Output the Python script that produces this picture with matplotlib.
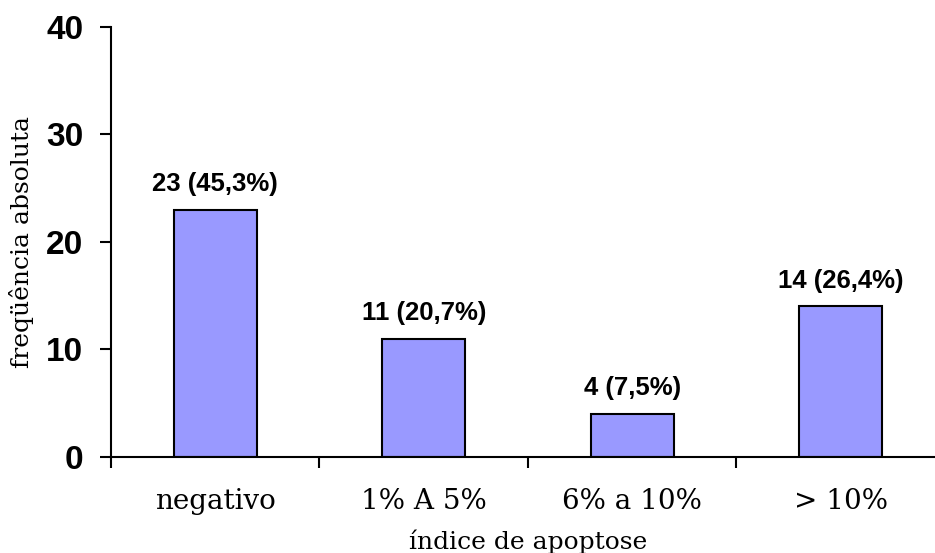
import matplotlib
matplotlib.use("Agg")
import matplotlib.pyplot as plt
import numpy as np

categories = ["negativo", "1% A 5%", "6% a 10%", "> 10%"]
counts = [23, 11, 4, 14]
percent_labels = ["23 (45,3%)", "11 (20,7%)", "4 (7,5%)", "14 (26,4%)"]
yticks = [0, 10, 20, 30, 40]

fig = plt.figure(figsize=(9.35, 5.53), dpi=100)
ax = fig.add_axes([0.1187, 0.1736, 0.892, 0.7776])

x = np.arange(len(categories))
ax.bar(x, counts, width=0.4, color="#9999FF", edgecolor="black", linewidth=1.5, zorder=2)

for xi, v, lab in zip(x, counts, percent_labels):
    ax.text(xi, v + 1.3, lab, ha="center", va="bottom", fontsize=18.5,
            fontweight="bold", family="Liberation Sans")

ax.set_xlim(-0.5, len(categories) - 0.5)
ax.set_ylim(0, 40)
ax.set_yticks(yticks)
ax.set_yticklabels([str(t) for t in yticks], fontsize=24, fontweight="bold",
                   family="Liberation Sans")

# category ticks sit on the boundaries between bars
ax.set_xticks(np.arange(-0.5, len(categories) + 0.5, 1.0))
ax.set_xticklabels([])
ax.set_xticks(x, minor=True)
ax.set_xticklabels(categories, minor=True, fontsize=20, family="DejaVu Serif")
ax.tick_params(axis="x", which="minor", length=0, pad=22)
ax.tick_params(axis="x", which="major", length=8, width=1.5, direction="out")
ax.tick_params(axis="y", length=8, width=1.5, direction="out", pad=12)

for side in ("top", "right"):
    ax.spines[side].set_visible(False)
for side in ("left", "bottom"):
    ax.spines[side].set_linewidth(1.5)

ax.set_xlabel("índice de apoptose", fontsize=18, family="DejaVu Serif", labelpad=11)
ax.set_ylabel("freqüência absoluta", fontsize=18, family="DejaVu Serif", labelpad=8.5)

fig.savefig("out.png", dpi=100)
